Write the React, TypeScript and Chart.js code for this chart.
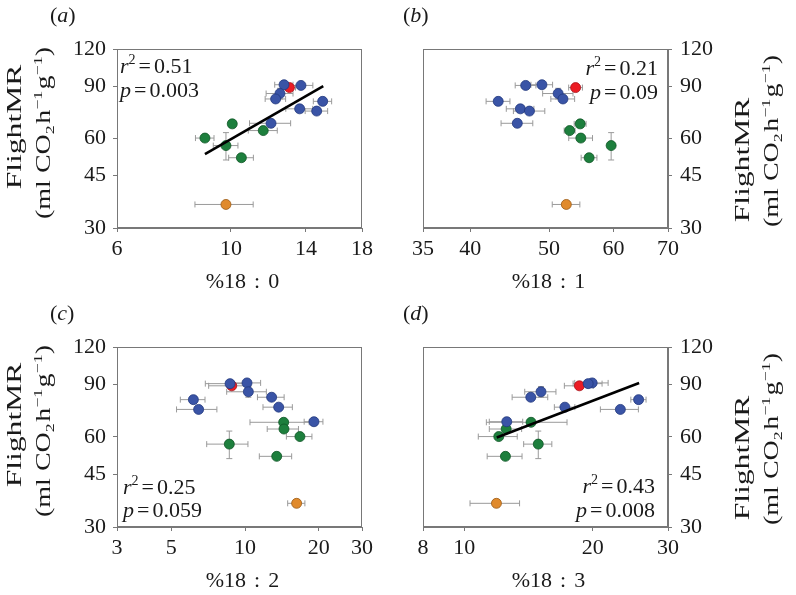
import React, { useEffect, useRef } from 'react';
import { Chart, registerables } from 'chart.js';

Chart.register(...registerables);

const FONT = '"Liberation Serif", "Times New Roman", Times, serif';

// shared y values (FlightMR, ml CO2 h-1 g-1)
const yTicks = [30, 45, 60, 90, 120];
const blueY = [91, 90.5, 85, 81.5, 80, 75.5, 74.2, 67.5];
const blueYErr = [0.8, 0.8, 3.5, 0.8, 0.8, 0.8, 0.8, 2];
const redY = [89];
const redYErr = [0.8];
const greenY = [67.2, 63.8, 60.2, 56.8, 51.7];
const greenYErr = [0.8, 0.8, 0.8, 6, 0.8];
const orangeY = [36];
const orangeYErr = [1];

// (a) %18:0
const xTicksA = [6, 10, 14, 18];
const blueXA = [12.69, 13.69, 12.46, 12.22, 15.09, 13.61, 14.69, 11.97];
const blueXErrA = [0.52, 0.75, 0.75, 0.56, 0.62, 0.82, 0.74, 1.1];
const redXA = [13.0];
const redXErrA = [0.36];
const greenXA = [10.06, 11.56, 8.9, 9.78, 10.48];
const greenXErrA = [0.14, 0.75, 0.37, 0.54, 0.58];
const orangeXA = [9.78];
const orangeXErrA = [1.27];
const fitXA = [8.9, 15.13];
const fitYA = [53.2, 90.1];

// (b) %18:1
const xTicksB = [35, 40, 50, 60, 70];
const blueXB = [49.0, 46.8, 51.3, 52.0, 43.3, 46.1, 47.3, 45.7];
const blueXErrB = [1.5, 1.37, 2.2, 1.75, 1.46, 1.8, 2.1, 2.05];
const redXB = [53.9];
const redXErrB = [1.05];
const greenXB = [54.6, 53.0, 54.7, 59.6, 56.0];
const greenXErrB = [0.92, 0.82, 1.84, 0.33, 1.25];
const orangeXB = [52.5];
const orangeXErrB = [2.05];

// (c) %18:2
const xTicksC = [3, 5, 10, 20, 30];
const blueXC = [10.18, 8.68, 10.31, 12.83, 6.15, 13.71, 6.46, 19.1];
const blueXErrC = [1.39, 1.8, 1.9, 1.6, 0.71, 1.88, 1.21, 1.68];
const redXC = [8.82];
const redXErrC = [1.72];
const greenXC = [14.37, 14.41, 16.74, 8.62, 13.46];
const greenXErrC = [3.9, 2.1, 2.0, 1.65, 2.03];
const orangeXC = [16.23];
const orangeXErrC = [1.31];

// (d) %18:3
const xTicksD = [8, 10, 20, 30];
const blueXD = [19.93, 19.5, 15.12, 14.31, 25.6, 17.2, 23.2, 12.57];
const blueXErrD = [1.79, 1.52, 1.27, 1.37, 1.05, 0.95, 2.37, 1.13];
const redXD = [18.6];
const redXErrD = [1.45];
const greenXD = [14.33, 12.53, 12.04, 14.9, 12.48];
const greenXErrD = [3.07, 1.09, 1.26, 1.13, 1.17];
const orangeXD = [11.89];
const orangeXErrD = [1.58];
const fitXD = [11.91, 25.67];
const fitYD = [59.8, 90.9];

type Seg = { t?: string; it?: boolean; sup?: boolean; sub?: boolean; gap?: number };

function segFont(size: number, s: Seg) {
  const sz = s.sup || s.sub ? size * 0.64 : size;
  return `${s.it ? 'italic ' : ''}${sz}px ${FONT}`;
}
function measureRich(ctx: CanvasRenderingContext2D, segs: Seg[], size: number) {
  let w = 0;
  for (const s of segs) {
    if (s.gap !== undefined) { w += s.gap; continue; }
    ctx.font = segFont(size, s);
    w += ctx.measureText(s.t || '').width;
  }
  return w;
}
function drawRich(ctx: CanvasRenderingContext2D, segs: Seg[], size: number, x: number, y: number, align: string) {
  const w = measureRich(ctx, segs, size);
  let cx = align === 'center' ? x - w / 2 : align === 'right' ? x - w : x;
  ctx.textAlign = 'left';
  ctx.textBaseline = 'alphabetic';
  for (const s of segs) {
    if (s.gap !== undefined) { cx += s.gap; continue; }
    ctx.font = segFont(size, s);
    const dy = s.sup ? -size * 0.4 : s.sub ? size * 0.22 : 0;
    ctx.fillText(s.t || '', cx, y + dy);
    cx += ctx.measureText(s.t || '').width;
  }
}

const statLine = (name: string, val: string, sq: boolean): Seg[] => {
  const segs: Seg[] = [{ t: name, it: true }];
  if (sq) segs.push({ t: '2', sup: true });
  segs.push({ gap: 3 }, { t: '=' }, { gap: 3 }, { t: val });
  return segs;
};

const yTitle1: Seg[] = [{ t: 'FlightMR' }];
const yTitle2: Seg[] = [
  { t: '(ml CO' }, { t: '2', sub: true }, { gap: 1 }, { t: 'h' }, { t: '\u22121', sup: true },
  { gap: 1 }, { t: 'g' }, { t: '\u22121', sup: true }, { t: ')' },
];

interface PanelCfg {
  left: number; top: number; w: number; h: number;
  side: 'left' | 'right';
  padL: number; padR: number; yW: number; xH: number;
  xMin: number; xMax: number; xTicks: number[];
  blueX: number[]; blueXErr: number[]; redX: number[]; redXErr: number[];
  greenX: number[]; greenXErr: number[]; orangeX: number[]; orangeXErr: number[];
  fitX?: number[]; fitY?: number[];
  letter: string; xLabel: string;
  r2: string; p: string; statPos: 'tl' | 'tr' | 'bl' | 'br';
  t1x: number; t2x: number; t1y: number; t2y: number;
}

const COLORS = {
  blue: ['#3a54a6', '#22397e'],
  red: ['#ec1c24', '#a81018'],
  green: ['#1d7f3d', '#0f5526'],
  orange: ['#e08a2c', '#9c5a14'],
};

function pts(xs: number[], ys: number[]) {
  return xs.map((x, i) => ({ x, y: ys[i] }));
}

function buildConfig(c: PanelCfg): any {
  const tickFont = { family: FONT, size: 22 };
  const axisColor = '#787878';
  const ds = (name: keyof typeof COLORS, xs: number[], xe: number[], ys: number[], ye: number[], order: number) => ({
    label: name,
    data: pts(xs, ys),
    xErr: xe,
    yErr: ye,
    backgroundColor: COLORS[name][0],
    borderColor: COLORS[name][1],
    borderWidth: 0.8,
    pointRadius: 5,
    pointHoverRadius: 5,
    showLine: false,
    order,
  });
  const datasets: any[] = [
    ds('blue', c.blueX, c.blueXErr, blueY, blueYErr, 1),
    ds('green', c.greenX, c.greenXErr, greenY, greenYErr, 2),
    ds('red', c.redX, c.redXErr, redY, redYErr, 3),
    ds('orange', c.orangeX, c.orangeXErr, orangeY, orangeYErr, 4),
  ];
  if (c.fitX && c.fitY) {
    datasets.unshift({
      label: 'fit',
      data: pts(c.fitX, c.fitY),
      showLine: true,
      borderColor: '#000000',
      borderWidth: 2.6,
      pointRadius: 0,
      fill: false,
      order: 0,
    });
  }

  const deco = {
    id: 'deco',
    beforeDatasetsDraw(chart: any) {
      const ctx: CanvasRenderingContext2D = chart.ctx;
      const { left, top, right, bottom } = chart.chartArea;
      ctx.save();
      ctx.strokeStyle = axisColor;
      ctx.lineWidth = 1;
      ctx.strokeRect(Math.round(left) + 0.5, Math.round(top) + 0.5, Math.round(right - left) - 1, Math.round(bottom - top) - 1);
      const xs = chart.scales.x;
      const ys = chart.scales.y;
      ctx.strokeStyle = '#9a9a9a';
      ctx.lineWidth = 1;
      const cap = 3;
      chart.data.datasets.forEach((d: any) => {
        if (!d.xErr) return;
        d.data.forEach((p: any, i: number) => {
          const px = xs.getPixelForValue(p.x);
          const py = ys.getPixelForValue(p.y);
          const ex = d.xErr[i];
          const ey = d.yErr[i];
          ctx.beginPath();
          if (ex) {
            const x1 = xs.getPixelForValue(p.x - ex);
            const x2 = xs.getPixelForValue(p.x + ex);
            ctx.moveTo(x1, py); ctx.lineTo(x2, py);
            ctx.moveTo(x1, py - cap); ctx.lineTo(x1, py + cap);
            ctx.moveTo(x2, py - cap); ctx.lineTo(x2, py + cap);
          }
          if (ey) {
            const y1 = ys.getPixelForValue(p.y - ey);
            const y2 = ys.getPixelForValue(p.y + ey);
            ctx.moveTo(px, y1); ctx.lineTo(px, y2);
            ctx.moveTo(px - cap, y1); ctx.lineTo(px + cap, y1);
            ctx.moveTo(px - cap, y2); ctx.lineTo(px + cap, y2);
          }
          ctx.stroke();
        });
      });
      ctx.restore();
    },
    afterDraw(chart: any) {
      const ctx: CanvasRenderingContext2D = chart.ctx;
      const { left, top, right, bottom } = chart.chartArea;
      ctx.save();
      ctx.fillStyle = '#1a1a1a';
      // panel letter
      const lx = c.side === 'left' ? left - 67 : left - 20;
      drawRich(ctx, [{ t: '(' }, { t: c.letter, it: true }, { t: ')' }], 22, lx, top - 27, 'left');
      // stats
      const l1 = statLine('r', c.r2, true);
      const l2 = statLine('p', c.p, false);
      if (c.statPos === 'tl') {
        drawRich(ctx, l1, 22, left + 3, top + 24, 'left');
        drawRich(ctx, l2, 22, left + 3, top + 48, 'left');
      } else if (c.statPos === 'tr') {
        drawRich(ctx, l1, 22, right - 10, top + 26, 'right');
        drawRich(ctx, l2, 22, right - 10, top + 50, 'right');
      } else if (c.statPos === 'bl') {
        drawRich(ctx, l1, 22, left + 6, bottom - 33, 'left');
        drawRich(ctx, l2, 22, left + 6, bottom - 10, 'left');
      } else {
        drawRich(ctx, l1, 22, right - 13, bottom - 34, 'right');
        drawRich(ctx, l2, 22, right - 13, bottom - 10, 'right');
      }
      // x title
      const parts = c.xLabel.split(':');
      drawRich(ctx, [{ t: parts[0] }, { gap: 8 }, { t: ':' }, { gap: 8 }, { t: parts[1] }], 22, (left + right) / 2 + 3, bottom + 60, 'center');
      // y title, rotated, stretched along its length
      const lines: any[] = [
        [yTitle1, c.t1x, top + c.t1y, 1.58],
        [yTitle2, c.t2x, top + c.t2y, 1.4],
      ];
      lines.forEach(([segs, bx, cy, stretch]) => {
        ctx.save();
        ctx.translate(bx, cy);
        ctx.rotate(-Math.PI / 2);
        ctx.scale(stretch, 1);
        drawRich(ctx, segs, 20, 0, 0, 'center');
        ctx.restore();
      });
      ctx.restore();
    },
  };

  return {
    type: 'scatter',
    data: { datasets },
    options: {
      responsive: false,
      animation: false,
      events: [],
      layout: { padding: { top: 49, left: c.padL, right: c.padR, bottom: 0 } },
      plugins: { legend: { display: false }, tooltip: { enabled: false } },
      scales: {
        x: {
          type: 'logarithmic',
          position: 'bottom',
          min: c.xMin,
          max: c.xMax,
          afterBuildTicks: (s: any) => { s.ticks = c.xTicks.map((v) => ({ value: v })); },
          afterFit: (s: any) => { s.height = c.xH; },
          grid: { display: true, drawOnChartArea: false, drawTicks: true, tickLength: 4, color: axisColor, tickColor: axisColor },
          border: { display: true, color: axisColor, width: 1 },
          ticks: { autoSkip: false, maxRotation: 0, minRotation: 0, padding: 4, font: tickFont, color: '#1a1a1a', callback: (v: any) => String(v) },
        },
        y: {
          type: 'logarithmic',
          position: c.side,
          min: 30,
          max: 120,
          afterBuildTicks: (s: any) => { s.ticks = yTicks.map((v) => ({ value: v })); },
          afterFit: (s: any) => { s.width = c.yW; },
          grid: { display: true, drawOnChartArea: false, drawTicks: true, tickLength: 4, color: axisColor, tickColor: axisColor },
          border: { display: true, color: axisColor, width: 1 },
          ticks: { autoSkip: false, padding: c.side === 'left' ? 7 : 8, font: tickFont, color: '#1a1a1a', callback: (v: any) => String(v) },
        },
      },
    },
    plugins: [deco],
  };
}

const panels: PanelCfg[] = [
  {
    left: 0, top: 0, w: 398, h: 298, side: 'left', padL: 0, padR: 36, yW: 117, xH: 70,
    xMin: 6, xMax: 18, xTicks: xTicksA,
    blueX: blueXA, blueXErr: blueXErrA, redX: redXA, redXErr: redXErrA,
    greenX: greenXA, greenXErr: greenXErrA, orangeX: orangeXA, orangeXErr: orangeXErrA,
    fitX: fitXA, fitY: fitYA, letter: 'a', xLabel: '%18:0', r2: '0.51', p: '0.003', statPos: 'tl',
    t1x: 21, t2x: 50, t1y: 78, t2y: 84,
  },
  {
    left: 398, top: 0, w: 398, h: 298, side: 'right', padL: 25, padR: 0, yW: 128, xH: 70,
    xMin: 35, xMax: 70, xTicks: xTicksB,
    blueX: blueXB, blueXErr: blueXErrB, redX: redXB, redXErr: redXErrB,
    greenX: greenXB, greenXErr: greenXErrB, orangeX: orangeXB, orangeXErr: orangeXErrB,
    letter: 'b', xLabel: '%18:1', r2: '0.21', p: '0.09', statPos: 'tr',
    t1x: 351, t2x: 380, t1y: 111, t2y: 92,
  },
  {
    left: 0, top: 298, w: 398, h: 297, side: 'left', padL: 0, padR: 36, yW: 117, xH: 68,
    xMin: 3, xMax: 30, xTicks: xTicksC,
    blueX: blueXC, blueXErr: blueXErrC, redX: redXC, redXErr: redXErrC,
    greenX: greenXC, greenXErr: greenXErrC, orangeX: orangeXC, orangeXErr: orangeXErrC,
    letter: 'c', xLabel: '%18:2', r2: '0.25', p: '0.059', statPos: 'bl',
    t1x: 21, t2x: 50, t1y: 78, t2y: 84,
  },
  {
    left: 398, top: 298, w: 398, h: 297, side: 'right', padL: 25, padR: 0, yW: 128, xH: 68,
    xMin: 8, xMax: 30, xTicks: xTicksD,
    blueX: blueXD, blueXErr: blueXErrD, redX: redXD, redXErr: redXErrD,
    greenX: greenXD, greenXErr: greenXErrD, orangeX: orangeXD, orangeXErr: orangeXErrD,
    fitX: fitXD, fitY: fitYD, letter: 'd', xLabel: '%18:3', r2: '0.43', p: '0.008', statPos: 'br',
    t1x: 351, t2x: 380, t1y: 111, t2y: 92,
  },
];

function Panel({ cfg }: { cfg: PanelCfg }) {
  const ref = useRef<HTMLCanvasElement>(null);
  useEffect(() => {
    let chart: Chart | null = null;
    let cancelled = false;
    const make = () => {
      if (cancelled || !ref.current) return;
      chart = new Chart(ref.current, buildConfig(cfg));
    };
    const fonts: any = (document as any).fonts;
    if (fonts && fonts.load) {
      Promise.all([
        fonts.load('22px "Liberation Serif"'),
        fonts.load('italic 22px "Liberation Serif"'),
      ]).then(make, make);
    } else {
      make();
    }
    return () => {
      cancelled = true;
      if (chart) chart.destroy();
    };
  }, [cfg]);
  return (
    <canvas
      ref={ref}
      width={cfg.w}
      height={cfg.h}
      style={{ position: 'absolute', left: cfg.left, top: cfg.top, width: cfg.w, height: cfg.h }}
    />
  );
}

export default function App() {
  return (
    <div style={{ position: 'absolute', left: 0, top: 0, width: 796, height: 595, background: '#ffffff', overflow: 'hidden' }}>
      {panels.map((p, i) => (
        <Panel key={i} cfg={p} />
      ))}
    </div>
  );
}
